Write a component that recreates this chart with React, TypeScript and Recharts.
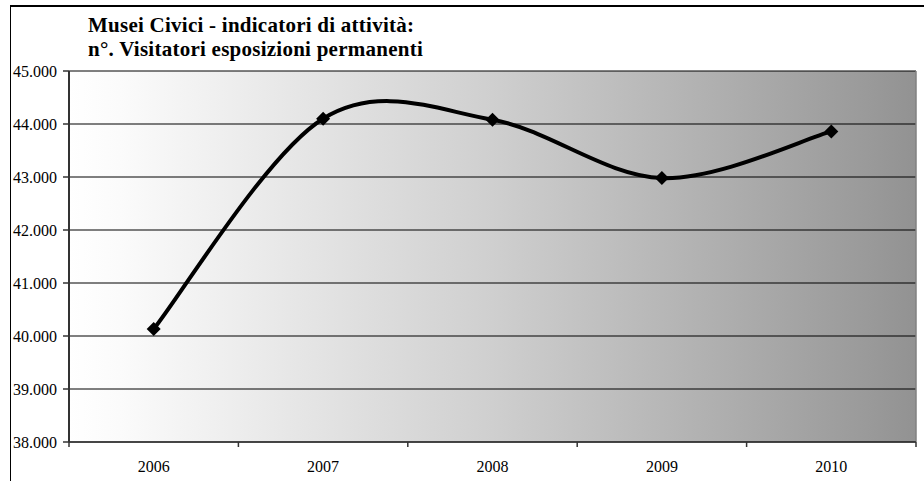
import { LineChart, Line, XAxis, YAxis, CartesianGrid, ReferenceLine } from 'recharts';

const years = ['2006', '2007', '2008', '2009', '2010'];
const visitors = [40130, 44100, 44080, 42980, 43860];
const yTicks = [38000, 39000, 40000, 41000, 42000, 43000, 44000, 45000];

// x positions: each year sits in the middle of its band, ticks on the band edges
const xTicks = [0, 0.5, 1, 1.5, 2, 2.5, 3, 3.5, 4, 4.5, 5];

const data = years.map((year, i) => ({ year, pos: i + 0.5, value: visitors[i] }));

const serif = '"Liberation Serif", "Times New Roman", serif';

// Excel-like smoothed line (Catmull-Rom through the points)
const smoothCurve = (context: any) => {
  let pts: number[][] = [];
  return {
    areaStart() {},
    areaEnd() {},
    lineStart() {
      pts = [];
    },
    point(x: number, y: number) {
      pts.push([+x, +y]);
    },
    lineEnd() {
      if (!pts.length) return;
      context.moveTo(pts[0][0], pts[0][1]);
      for (let i = 0; i < pts.length - 1; i++) {
        const p0 = pts[Math.max(i - 1, 0)];
        const p1 = pts[i];
        const p2 = pts[i + 1];
        const p3 = pts[Math.min(i + 2, pts.length - 1)];
        context.bezierCurveTo(
          p1[0] + (p2[0] - p0[0]) / 6,
          p1[1] + (p2[1] - p0[1]) / 6,
          p2[0] - (p3[0] - p1[0]) / 6,
          p2[1] - (p3[1] - p1[1]) / 6,
          p2[0],
          p2[1]
        );
      }
    },
  };
};

const Diamond = (props: any) => {
  const { cx, cy } = props;
  if (cx == null || cy == null) return null;
  const r = 7;
  return (
    <polygon
      points={`${cx},${cy - r} ${cx + r},${cy} ${cx},${cy + r} ${cx - r},${cy}`}
      fill="#000"
    />
  );
};

const XTick = (props: any) => {
  const { x, y, payload } = props;
  const v = payload.value;
  if (Number.isInteger(v)) {
    return <line x1={x} y1={y} x2={x} y2={y + 5} stroke="#333" strokeWidth={1.5} />;
  }
  return (
    <text x={x} y={y + 30} textAnchor="middle" fill="#000" fontSize={16} fontFamily={serif}>
      {years[Math.floor(v)]}
    </text>
  );
};

const fmt = (v: number) => v.toLocaleString('it-IT').replace(/\s/g, '.');

export default function App() {
  return (
    <div style={{ position: 'absolute', left: 0, top: 0, width: 924, height: 481, background: '#fff', overflow: 'hidden' }}>
      <div
        style={{
          position: 'absolute',
          left: 10,
          top: 5,
          width: 930,
          height: 500,
          borderTop: '2px solid #000',
          borderLeft: '1px solid #000',
        }}
      />
      <div
        style={{
          position: 'absolute',
          left: 88,
          top: 14,
          fontFamily: serif,
          fontWeight: 'bold',
          fontSize: 21,
          letterSpacing: 0.25,
          lineHeight: '23.5px',
          color: '#000',
          whiteSpace: 'nowrap',
        }}
      >
        <div>Musei Civici - indicatori di attività:</div>
        <div>n°. Visitatori esposizioni permanenti</div>
      </div>
      <div style={{ position: 'absolute', left: 0, top: 0 }}>
        <LineChart width={924} height={481} data={data} margin={{ top: 71, right: 8, bottom: 0, left: 0 }}>
          <defs>
            <linearGradient id="plotBg" x1="0" y1="0" x2="1" y2="0">
              <stop offset="0%" stopColor="#ffffff" />
              <stop offset="6%" stopColor="#fbfbfb" />
              <stop offset="50%" stopColor="#cfcfcf" />
              <stop offset="95%" stopColor="#999999" />
              <stop offset="100%" stopColor="#929292" />
            </linearGradient>
          </defs>
          <CartesianGrid
            vertical={false}
            stroke="#000"
            strokeWidth={1}
            fill="url(#plotBg)"
            fillOpacity={1}
          />
          <XAxis
            type="number"
            dataKey="pos"
            domain={[0, 5]}
            ticks={xTicks}
            allowDecimals
            interval={0}
            height={39}
            tickSize={0}
            tickMargin={0}
            tickLine={false}
            axisLine={{ stroke: '#333', strokeWidth: 1.5 }}
            tick={<XTick />}
          />
          <YAxis
            domain={[38000, 45000]}
            ticks={yTicks}
            width={69}
            interval={0}
            tickSize={6}
            tickMargin={6}
            tickFormatter={fmt}
            axisLine={{ stroke: '#333', strokeWidth: 2 }}
            tickLine={{ stroke: '#333', strokeWidth: 1.5 }}
            tick={{ fill: '#000', fontSize: 16, fontFamily: serif }}
          />
          <ReferenceLine x={5} stroke="#808080" strokeWidth={1.5} />
          <Line
            type={smoothCurve as any}
            dataKey="value"
            stroke="#000"
            strokeWidth={4}
            dot={<Diamond />}
            activeDot={false}
            isAnimationActive={false}
          />
        </LineChart>
      </div>
    </div>
  );
}
